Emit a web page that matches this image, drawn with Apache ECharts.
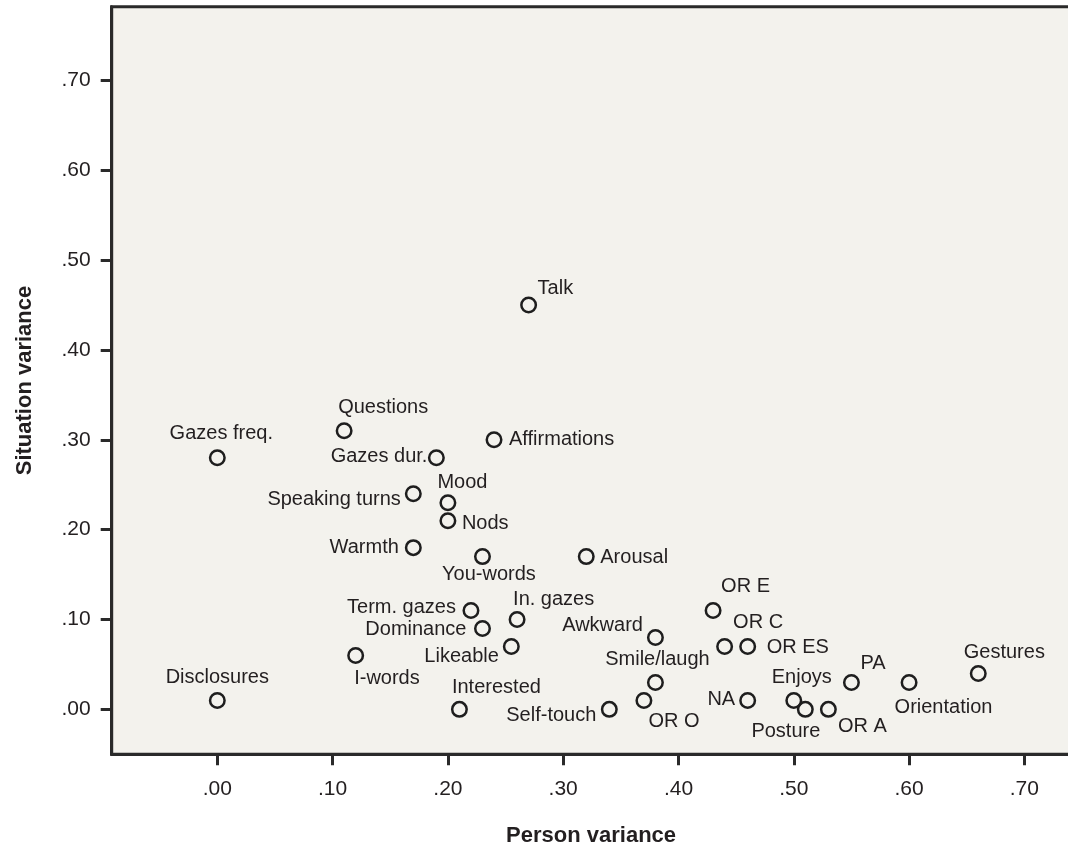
<!DOCTYPE html>
<html><head><meta charset="utf-8">
<script src="https://cdn.jsdelivr.net/npm/echarts@6/dist/echarts.min.js"></script>
<style>html,body{margin:0;padding:0;background:#fff}#c{width:1068px;height:845px}</style>
</head><body><div id="c"></div>
<script>
// ---- data ----
const names = ['Disclosures','Gazes freq.','Questions','Gazes dur.','Affirmations','Talk','Speaking turns','Mood','Nods','Warmth','You-words','Arousal','Term. gazes','In. gazes','Dominance','Likeable','I-words','Interested','Awkward','Smile/laugh','Self-touch','OR O','OR E','OR C','OR ES','NA','Enjoys','Posture','OR A','PA','Orientation','Gestures'];
const personVariance = [0.00,0.00,0.11,0.19,0.24,0.27,0.17,0.20,0.20,0.17,0.23,0.32,0.22,0.26,0.23,0.255,0.12,0.21,0.38,0.38,0.34,0.37,0.43,0.44,0.46,0.46,0.50,0.51,0.53,0.55,0.60,0.66];
const situationVariance = [0.01,0.28,0.31,0.28,0.30,0.45,0.24,0.23,0.21,0.18,0.17,0.17,0.11,0.10,0.09,0.07,0.06,0.00,0.08,0.03,0.00,0.01,0.11,0.07,0.07,0.01,0.01,0.00,0.00,0.03,0.03,0.04];
const xTickValues = [0,0.1,0.2,0.3,0.4,0.5,0.6,0.7];
const xTickLabels = ['.00','.10','.20','.30','.40','.50','.60','.70'];
const yTickValues = [0,0.1,0.2,0.3,0.4,0.5,0.6,0.7];
const yTickLabels = ['.00','.10','.20','.30','.40','.50','.60','.70'];
const xTitle = 'Person variance';
const yTitle = 'Situation variance';

// ---- label placement (align, dx, dy relative to marker centre) ----
const labelPlacement = {
  'Disclosures':['center',0,-23], 'Gazes freq.':['center',4,-24], 'Questions':['left',-6,-23],
  'Gazes dur.':['right',-9,-1.5], 'Affirmations':['left',15,0], 'Talk':['left',9,-17],
  'Speaking turns':['right',-12.5,6], 'Mood':['left',-10.5,-20], 'Nods':['left',14,2.5],
  'Warmth':['right',-14.5,0], 'You-words':['center',6.5,18], 'Arousal':['left',14,0.5],
  'Term. gazes':['right',-15,-3], 'In. gazes':['left',-4,-20.5], 'Dominance':['right',-16,1],
  'Likeable':['right',-12.5,10], 'I-words':['left',-1.5,23], 'Interested':['left',-7.5,-22],
  'Awkward':['right',-12.5,-12], 'Smile/laugh':['center',2,-22.5], 'Self-touch':['right',-13,6.5],
  'OR O':['left',4.5,21], 'OR E':['left',8,-24], 'OR C':['left',8.5,-24], 'OR ES':['left',19,1.5],
  'NA':['right',-12.5,-1], 'Enjoys':['center',8,-22.5], 'Posture':['right',15,22],
  'OR A':['left',9.5,17], 'PA':['left',9,-19], 'Orientation':['left',-14.5,25], 'Gestures':['left',-14.5,-21]
};

const FONT = '"Liberation Sans", Arial, Helvetica, sans-serif';
const INK = '#231f20';
const FRAME = '#2a2a2a';

const seriesData = names.map((n, i) => {
  const p = labelPlacement[n] || ['left', 10, 0];
  return {
    name: n,
    value: [personVariance[i], situationVariance[i]],
    label: { align: p[0], offset: [p[1], p[2]] }
  };
});

const chart = echarts.init(document.getElementById('c'), null, {renderer: 'canvas'});
chart.setOption({
  animation: false,
  backgroundColor: '#ffffff',
  grid: {
    left: 111.7, top: 6.7, width: 958.8, height: 747.6,
    show: true, backgroundColor: '#f3f2ed', borderColor: FRAME, borderWidth: 3,
    containLabel: false, outerBoundsMode: 'none'
  },
  xAxis: {
    type: 'value', min: -0.0916, max: 0.74, position: 'bottom',
    name: xTitle, nameLocation: 'middle', nameGap: 71,
    nameTextStyle: { fontFamily: FONT, fontSize: 22, fontWeight: 'bold', color: INK },
    axisLine: { show: true, onZero: false, lineStyle: { color: FRAME, width: 3 } },
    splitLine: { show: false },
    axisTick: { show: true, inside: false, length: 11, customValues: xTickValues,
                lineStyle: { color: FRAME, width: 3 } },
    axisLabel: { show: true, margin: 24, customValues: xTickValues,
                 fontFamily: FONT, fontSize: 21, color: INK,
                 formatter: v => xTickLabels[xTickValues.findIndex(t => Math.abs(t - v) < 1e-6)] || '' }
  },
  yAxis: {
    type: 'value', min: -0.05, max: 0.782, position: 'left',
    name: yTitle, nameLocation: 'middle', nameGap: 76, nameRotate: 90,
    nameTextStyle: { fontFamily: FONT, fontSize: 22, fontWeight: 'bold', color: INK },
    axisLine: { show: true, onZero: false, lineStyle: { color: FRAME, width: 3 } },
    splitLine: { show: false },
    axisTick: { show: true, inside: false, length: 11, customValues: yTickValues,
                lineStyle: { color: FRAME, width: 3 } },
    axisLabel: { show: true, margin: 21, customValues: yTickValues,
                 fontFamily: FONT, fontSize: 21, color: INK,
                 formatter: v => yTickLabels[yTickValues.findIndex(t => Math.abs(t - v) < 1e-6)] || '' }
  },
  series: [{
    type: 'scatter',
    data: seriesData,
    symbol: 'circle',
    symbolSize: 14.5,
    itemStyle: { color: 'rgba(0,0,0,0)', borderColor: '#1e1e1e', borderWidth: 2.5, opacity: 1 },
    label: {
      show: true, formatter: '{b}', position: 'inside', verticalAlign: 'middle',
      fontFamily: FONT, fontSize: 20, color: INK, textBorderWidth: 0
    },
    emphasis: { disabled: true }
  }]
});
</script>
</body></html>
